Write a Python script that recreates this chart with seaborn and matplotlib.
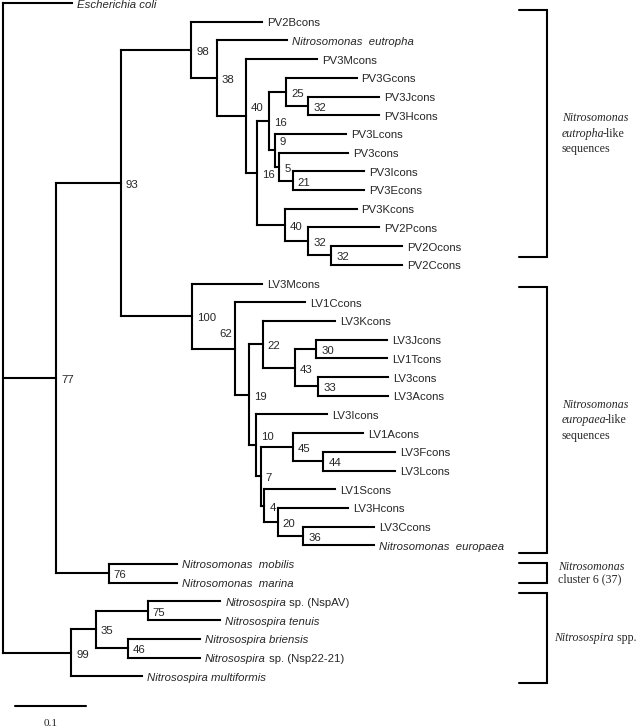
import numpy as np
import pandas as pd
import matplotlib
matplotlib.use("Agg")
import matplotlib.pyplot as plt
import seaborn as sns

sns.set_theme(style="white")
plt.rcParams["font.family"] = ["Liberation Sans", "DejaVu Sans"]

# ---------------- data ----------------
leaf_names = [
    "Escherichia coli", "PV2Bcons", "Nitrosomonas  eutropha", "PV3Mcons", "PV3Gcons",
    "PV3Jcons", "PV3Hcons", "PV3Lcons", "PV3cons", "PV3Icons", "PV3Econs", "PV3Kcons",
    "PV2Pcons", "PV2Ocons", "PV2Ccons", "LV3Mcons", "LV1Ccons", "LV3Kcons", "LV3Jcons",
    "LV1Tcons", "LV3cons", "LV3Acons", "LV3Icons", "LV1Acons", "LV3Fcons", "LV3Lcons",
    "LV1Scons", "LV3Hcons", "LV3Ccons", "Nitrosomonas  europaea", "Nitrosomonas  mobilis",
    "Nitrosomonas  marina", "Nitrosospira sp. (NspAV)", "Nitrosospira tenuis",
    "Nitrosospira briensis", "Nitrosospira sp. (Nsp22-21)", "Nitrosospira multiformis",
]
leaf_italic = [
    1, 0, 1, 0, 0, 0, 0, 0, 0, 0, 0, 0, 0, 0, 0, 0, 0, 0, 0,
    0, 0, 0, 0, 0, 0, 0, 0, 0, 0, 1, 1, 1, 2, 1, 1, 2, 1,
]  # 0 normal, 1 italic, 2 italic genus + roman rest
leaf_depth = [
    0.097, 0.365, 0.400, 0.442, 0.498, 0.530, 0.530, 0.483, 0.486, 0.508, 0.508, 0.498,
    0.530, 0.562, 0.562, 0.365, 0.425, 0.468, 0.541, 0.541, 0.542, 0.542, 0.456, 0.507,
    0.552, 0.552, 0.468, 0.486, 0.523, 0.523, 0.245, 0.245, 0.306, 0.306, 0.277, 0.277,
    0.196,
]

# internal nodes, listed children-before-parents
node_ids = [
    "n32a", "n25", "n21", "n5", "n9", "n16a", "n32b", "n32c", "n40b", "n16b", "n40",
    "n38", "n98", "n30", "n33", "n43", "n22", "n44", "n45", "n36", "n20", "n4", "n7",
    "n10", "n19", "n62", "n100", "n93", "n76", "n77", "n75", "n46", "n35", "n99", "root",
]
node_children = [
    ["PV3Jcons", "PV3Hcons"], ["PV3Gcons", "n32a"], ["PV3Icons", "PV3Econs"],
    ["PV3cons", "n21"], ["PV3Lcons", "n5"], ["n25", "n9"], ["PV2Ocons", "PV2Ccons"],
    ["PV2Pcons", "n32b"], ["PV3Kcons", "n32c"], ["n16a", "n40b"], ["PV3Mcons", "n16b"],
    ["Nitrosomonas  eutropha", "n40"], ["PV2Bcons", "n38"],
    ["LV3Jcons", "LV1Tcons"], ["LV3cons", "LV3Acons"], ["n30", "n33"], ["LV3Kcons", "n43"],
    ["LV3Fcons", "LV3Lcons"], ["LV1Acons", "n44"], ["LV3Ccons", "Nitrosomonas  europaea"],
    ["LV3Hcons", "n36"], ["LV1Scons", "n20"], ["n45", "n4"], ["LV3Icons", "n7"],
    ["n22", "n10"], ["LV1Ccons", "n19"], ["LV3Mcons", "n62"], ["n98", "n100"],
    ["Nitrosomonas  mobilis", "Nitrosomonas  marina"], ["n93", "n76"],
    ["Nitrosospira sp. (NspAV)", "Nitrosospira tenuis"],
    ["Nitrosospira briensis", "Nitrosospira sp. (Nsp22-21)"], ["n75", "n46"],
    ["n35", "Nitrosospira multiformis"], ["Escherichia coli", "n77", "n99"],
]
node_depth = [
    0.430, 0.399, 0.408, 0.389, 0.383, 0.375, 0.462, 0.430, 0.397, 0.358, 0.342,
    0.301, 0.265, 0.441, 0.444, 0.411, 0.366, 0.451, 0.408, 0.423, 0.387, 0.368, 0.363,
    0.356, 0.346, 0.327, 0.266, 0.166, 0.149, 0.075, 0.204, 0.176, 0.131, 0.096, 0.0,
]
node_support = [
    "32", "25", "21", "5", "9", "16", "32", "32", "40", "16", "40",
    "38", "98", "30", "33", "43", "22", "44", "45", "36", "20", "4", "7",
    "10", "19", "62", "100", "93", "76", "77", "75", "46", "35", "99", "",
]

scale_value = 0.1
scale_label = "0.1"

group_lines = [
    ["Nitrosomonas", "eutropha|-like", "sequences"],
    ["Nitrosomonas", "europaea|-like", "sequences"],
    ["Nitrosomonas", "|cluster 6 (37)"],
    ["Nitrosospira| spp."],
]

# ---------------- layout (styling) ----------------
PX_X = 710.0          # pixels per substitution unit
PX_Y = 18.7           # pixels per leaf row
W, H = 638, 728
def px_to_x(px):
    return (px - 3) / PX_X
def px_to_y(py):
    return (py - 3) / PX_Y

group_spans = [(10, 257), (287, 553), (563, 583), (593, 683)]   # bracket pixel rows
group_text_x = [562, 562, 558, 554]
group_line_px = [15.5, 15.5, 13, 15]
bracket_x = 546.5
bracket_tick = 518.5

# ---------------- build tree geometry ----------------
ypos = {n: float(i) for i, n in enumerate(leaf_names)}
xpos = dict(zip(leaf_names, leaf_depth))
for nid, ch, d in zip(node_ids, node_children, node_depth):
    ys = [ypos[c] for c in ch]
    ypos[nid] = (ys[0] + ys[-1]) / 2.0
    xpos[nid] = d

rows = []
seg = 0
for nid, ch in zip(node_ids, node_children):
    xn = xpos[nid]
    ys = [ypos[c] for c in ch]
    rows += [(seg, xn, ys[0]), (seg, xn, ys[-1])]
    seg += 1
    for c in ch:
        rows += [(seg, xn, ypos[c]), (seg, xpos[c], ypos[c])]
        seg += 1
df = pd.DataFrame(rows, columns=["seg", "x", "y"])

fig = plt.figure(figsize=(W / 100, H / 100), dpi=100)
ax = fig.add_axes([0, 0, 1, 1])
sns.lineplot(data=df, x="x", y="y", units="seg", estimator=None, sort=False,
             color="black", lw=1.5, ax=ax, legend=False,
             solid_capstyle="projecting")

ax.set_xlim(px_to_x(0), px_to_x(W))
ax.set_ylim(px_to_y(H), px_to_y(0))
ax.axis("off")

PT = 0.72  # points per pixel
FS = 8.2

# leaf labels
for name, it, d in zip(leaf_names, leaf_italic, leaf_depth):
    y = ypos[name]
    if it == 2:
        genus, rest = name.split(" ", 1)
        t1 = ax.annotate(genus, xy=(d, y), xytext=(5 * PT, -1.5 * PT),
                         textcoords="offset points", ha="left", va="center",
                         fontsize=FS, style="italic")
        ax.annotate(" " + rest, xy=(1, 0), xycoords=t1, ha="left", va="bottom",
                    fontsize=FS)
    else:
        ax.annotate(name, xy=(d, y), xytext=(5 * PT, -1.5 * PT),
                    textcoords="offset points", ha="left", va="center",
                    fontsize=FS, style="italic" if it else "normal")

# bootstrap labels
label_shift = {"n40": (5, 8), "n9": (5, 8), "n10": (5, 8), "n62": (-3, 14.5)}
for nid, sup in zip(node_ids, node_support):
    if not sup:
        continue
    dx, dy = label_shift.get(nid, (5, -2))
    ax.annotate(sup, xy=(xpos[nid], ypos[nid]), xytext=(dx * PT, dy * PT),
                textcoords="offset points", ha="right" if dx < 0 else "left",
                va="center", fontsize=FS)

# scale bar
sb_x0 = px_to_x(15)
sb_y = px_to_y(706)
ax.plot([sb_x0, sb_x0 + scale_value], [sb_y, sb_y], color="black", lw=1.5)
ax.text(sb_x0 + scale_value / 2, px_to_y(723), scale_label, ha="center", va="center",
        fontsize=8.2, family="Liberation Serif")

# group brackets
SERIF = "Liberation Serif"
GFS = 8.6
for (top, bot), lines, tx, lp in zip(group_spans, group_lines, group_text_x, group_line_px):
    xb, xt = px_to_x(bracket_x), px_to_x(bracket_tick)
    yt, yb = px_to_y(top), px_to_y(bot)
    ax.plot([xt, xb, xb, xt], [yt, yt, yb, yb], color="black", lw=1.5,
            solid_joinstyle="miter")
    yc = (yt + yb) / 2
    n = len(lines)
    for i, ln in enumerate(lines):
        off = -(i - (n - 1) / 2) * lp * PT
        if "|" in ln:
            a, b = ln.split("|")
            if a:
                t1 = ax.annotate(a, xy=(px_to_x(tx), yc), xytext=(0, off),
                                 textcoords="offset points", ha="left", va="center",
                                 fontsize=GFS, family=SERIF, style="italic")
                shift = -1.2 if b.startswith("-") else 0.5
                ax.annotate(b, xy=(1, 0), xycoords=t1, xytext=(shift, 0),
                            textcoords="offset points", ha="left", va="bottom",
                            fontsize=GFS, family=SERIF)
            else:
                ax.annotate(b, xy=(px_to_x(tx), yc), xytext=(0, off),
                            textcoords="offset points", ha="left", va="center",
                            fontsize=GFS, family=SERIF)
        else:
            ax.annotate(ln, xy=(px_to_x(tx), yc), xytext=(0, off),
                        textcoords="offset points", ha="left", va="center",
                        fontsize=GFS, family=SERIF,
                        style="normal" if ln == "sequences" else "italic")

fig.savefig("out.png", dpi=100, facecolor="white")
